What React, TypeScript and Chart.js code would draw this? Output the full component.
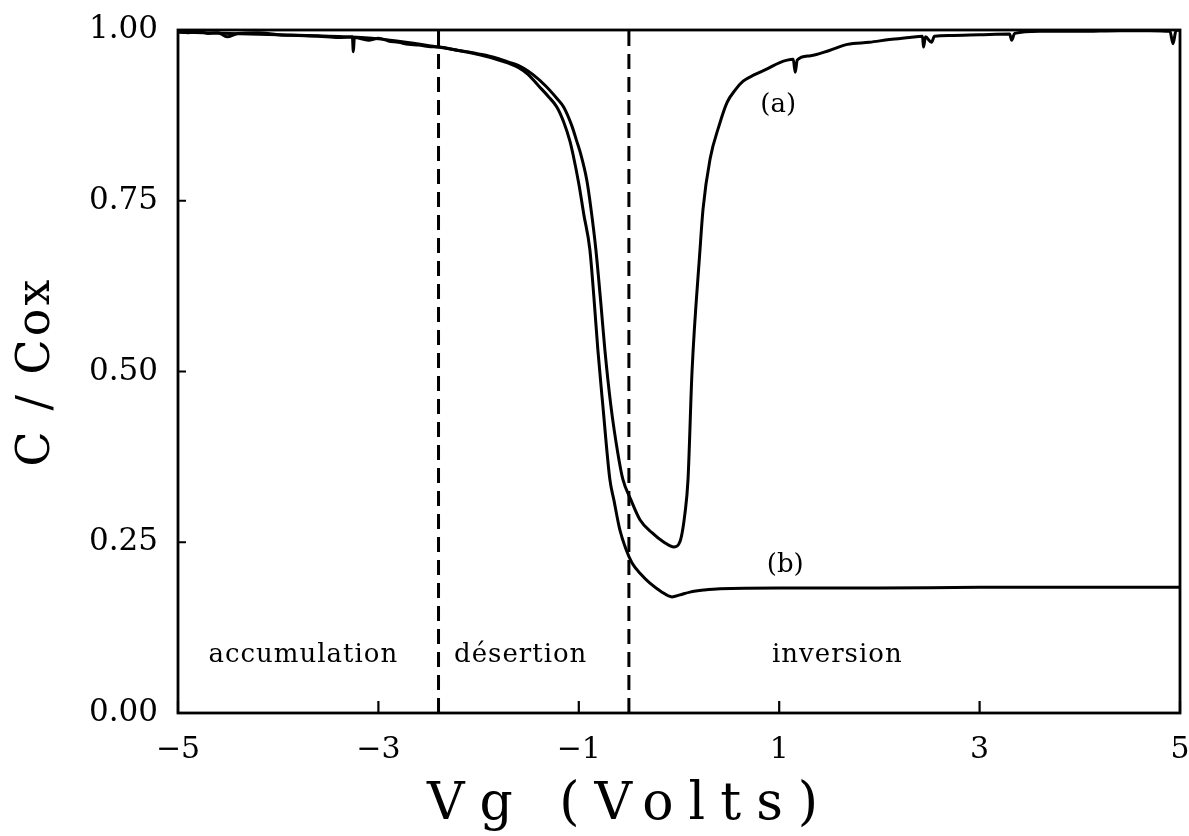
import React, { useEffect, useRef } from "react";
import { Chart, registerables } from "chart.js";

Chart.register(...registerables);

// ---- data ----
const xTicks = [-5, -3, -1, 1, 3, 5];
const yTicks = [0, 0.25, 0.5, 0.75, 1.0];

const curveAX = [
  -5.0, -4.9, -4.8, -4.7, -4.6, -4.51, -4.4, -4.2, -4.0, -3.8, -3.6, -3.4, -3.26, -3.25, -3.24,
  -3.1, -3.0, -2.9, -2.8, -2.7, -2.6, -2.5, -2.4, -2.3, -2.2, -2.1, -2.0, -1.9, -1.8, -1.7,
  -1.6, -1.55, -1.46, -1.33, -1.22, -1.15, -1.07, -1.02, -0.98, -0.92, -0.88, -0.83, -0.78,
  -0.74, -0.68, -0.61, -0.56, -0.48, -0.39, -0.27, -0.15, -0.05, 0.01, 0.06, 0.09, 0.13, 0.21,
  0.24, 0.31, 0.4, 0.48, 0.56, 0.64, 0.76, 0.88, 1.0, 1.14, 1.16, 1.18, 1.3, 1.5, 1.68, 1.9,
  2.1, 2.3, 2.43, 2.44, 2.46, 2.52, 2.55, 2.7, 3.0, 3.3, 3.32, 3.35, 3.6, 4.0, 4.4, 4.7, 4.9,
  4.93, 4.96, 5.0,
];
const curveAY = [
  0.997, 0.996, 0.998, 0.995, 0.996, 0.99, 0.995, 0.996, 0.993, 0.992, 0.991, 0.989, 0.99, 0.968, 0.989,
  0.985, 0.988, 0.984, 0.982, 0.979, 0.978, 0.976, 0.975, 0.973, 0.97, 0.968, 0.965, 0.962, 0.958, 0.953,
  0.948, 0.944, 0.935, 0.918, 0.9, 0.887, 0.86, 0.837, 0.818, 0.78, 0.74, 0.679, 0.6,
  0.532, 0.45, 0.38, 0.342, 0.312, 0.283, 0.264, 0.25, 0.243, 0.251, 0.293, 0.342, 0.5, 0.679,
  0.738, 0.811, 0.86, 0.894, 0.912, 0.925, 0.935, 0.943, 0.952, 0.957, 0.938, 0.956, 0.962, 0.97, 0.979, 0.982,
  0.986, 0.989, 0.991, 0.975, 0.99, 0.982, 0.991, 0.992, 0.993, 0.994, 0.985, 0.995, 0.998, 0.998, 0.999, 0.999, 0.998,
  0.98, 0.999, 1.0,
];

const curveBX = [
  -5.0, -4.0, -3.0, -2.4, -2.0, -1.8, -1.6, -1.507, -1.4, -1.3, -1.218, -1.15, -1.088, -1.058,
  -1.0, -0.95, -0.89, -0.85, -0.81, -0.76, -0.69, -0.65, -0.59, -0.53, -0.47, -0.38, -0.29, -0.18,
  -0.07, 0.01, 0.11, 0.25, 0.41, 1.0, 2.0, 3.0, 4.0, 5.0,
];
const curveBY = [
  0.997, 0.993, 0.987, 0.975, 0.964, 0.956, 0.945, 0.935, 0.918, 0.902, 0.887, 0.865, 0.837, 0.818,
  0.775, 0.73, 0.679, 0.61, 0.532, 0.45, 0.342, 0.312, 0.268, 0.24, 0.22, 0.203, 0.19, 0.178,
  0.17, 0.173, 0.177, 0.18, 0.182, 0.183, 0.183, 0.184, 0.184, 0.184,
];

const boundaryX = [-2.4, -0.5];

const regionLabels = ["accumulation", "désertion", "inversion"];
const regionLabelX = [-3.75, -1.58, 1.58];
const regionLabelY = [0.084, 0.084, 0.084];

const curveLabels = ["(a)", "(b)"];
const curveLabelX = [0.99, 1.06];
const curveLabelY = [0.89, 0.216];

const xTitle = "Vg (Volts)";
const yTitle = "C / Cox";

const SERIF = "'DejaVu Serif', serif";

const toPoints = (xs: number[], ys: number[]) => xs.map((x, i) => ({ x, y: ys[i] }));

const framePlugin = {
  id: "frameAndText",
  afterDatasetsDraw(chart: any) {
    const { ctx, chartArea: a, scales } = chart;
    ctx.save();
    ctx.strokeStyle = "#000";
    ctx.lineWidth = 2.8;
    ctx.strokeRect(a.left, a.top, a.right - a.left, a.bottom - a.top);

    ctx.lineWidth = 2.2;
    ctx.beginPath();
    xTicks.forEach((v) => {
      const px = scales.x.getPixelForValue(v);
      ctx.moveTo(px, a.bottom);
      ctx.lineTo(px, a.bottom - 12);
    });
    yTicks.forEach((v) => {
      const py = scales.y.getPixelForValue(v);
      ctx.moveTo(a.left, py);
      ctx.lineTo(a.left + 8, py);
    });
    ctx.stroke();

    ctx.fillStyle = "#000";
    ctx.textAlign = "center";
    ctx.textBaseline = "middle";
    ctx.font = `26px ${SERIF}`;
    (ctx as any).letterSpacing = "1px";
    regionLabels.forEach((t, i) => {
      ctx.fillText(t, scales.x.getPixelForValue(regionLabelX[i]), scales.y.getPixelForValue(regionLabelY[i]));
    });
    (ctx as any).letterSpacing = "0px";
    curveLabels.forEach((t, i) => {
      ctx.fillText(t, scales.x.getPixelForValue(curveLabelX[i]), scales.y.getPixelForValue(curveLabelY[i]));
    });

    ctx.font = `52px ${SERIF}`;
    (ctx as any).letterSpacing = "15px";
    ctx.fillText(xTitle, 630, 805);
    ctx.translate(37, (a.top + a.bottom) / 2);
    ctx.rotate(-Math.PI / 2);
    ctx.font = `46px ${SERIF}`;
    (ctx as any).letterSpacing = "3px";
    ctx.fillText(yTitle, 0, 0);
    ctx.restore();
  },
};

export default function App() {
  const ref = useRef<HTMLCanvasElement | null>(null);

  useEffect(() => {
    if (!ref.current) return;
    const boundarySets = boundaryX.map((bx) => ({
      data: [
        { x: bx, y: 0 },
        { x: bx, y: 1 },
      ],
      borderColor: "#000",
      borderWidth: 3,
      borderDash: [15, 8],
      pointRadius: 0,
      fill: false,
    }));
    const chart = new Chart(ref.current, {
      type: "line",
      data: {
        datasets: [
          {
            label: "(a)",
            data: toPoints(curveAX, curveAY),
            borderColor: "#000",
            borderWidth: 3,
            pointRadius: 0,
            cubicInterpolationMode: "monotone",
            fill: false,
          },
          {
            label: "(b)",
            data: toPoints(curveBX, curveBY),
            borderColor: "#000",
            borderWidth: 3,
            pointRadius: 0,
            cubicInterpolationMode: "monotone",
            fill: false,
          },
          ...boundarySets,
        ] as any,
      },
      options: {
        animation: false,
        responsive: true,
        maintainAspectRatio: false,
        layout: { padding: { top: 30, right: 9, left: 0, bottom: 0 } },
        plugins: { legend: { display: false }, tooltip: { enabled: false }, title: { display: false } },
        scales: {
          x: {
            type: "linear",
            min: -5,
            max: 5,
            grid: { display: false, drawTicks: false },
            border: { display: false },
            afterBuildTicks: (s: any) => {
              s.ticks = xTicks.map((v) => ({ value: v }));
            },
            afterFit: (s: any) => {
              s.height = 123;
              s.paddingLeft = 0;
              s.paddingRight = 0;
            },
            ticks: {
              padding: 19,
              color: "#000",
              font: { family: SERIF, size: 30 },
              callback: (v: any) => (Number(v) < 0 ? "\u2212" + Math.abs(Number(v)) : String(v)),
            },
          },
          y: {
            type: "linear",
            min: 0,
            max: 1,
            grid: { display: false, drawTicks: false },
            border: { display: false },
            afterBuildTicks: (s: any) => {
              s.ticks = yTicks.map((v) => ({ value: v }));
            },
            afterFit: (s: any) => {
              s.width = 178;
              s.paddingTop = 0;
              s.paddingBottom = 0;
            },
            ticks: {
              padding: 20,
              color: "#000",
              font: { family: SERIF, size: 31 },
              callback: (v: any) => Number(v).toFixed(2),
            },
          },
        },
      },
      plugins: [framePlugin],
    });
    return () => chart.destroy();
  }, []);

  return (
    <div style={{ position: "absolute", left: 0, top: 0, width: 1189, height: 836, background: "#fff" }}>
      <canvas ref={ref} />
    </div>
  );
}
